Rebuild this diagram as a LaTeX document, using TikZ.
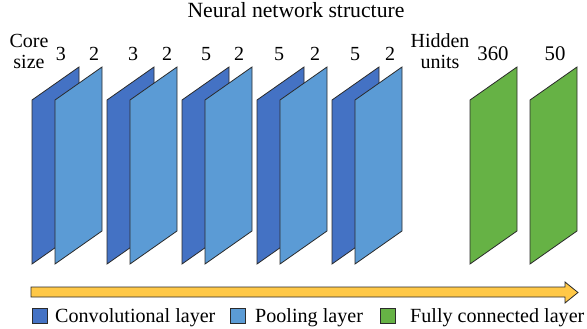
\documentclass[tikz,border=0pt]{standalone}
\usepackage{fontspec}
\setmainfont{Liberation Serif}
\usepackage{tikz}
\usetikzlibrary{positioning}
\usepackage{xcolor}
\definecolor{convblue}{HTML}{4472C4}
\definecolor{poolblue}{HTML}{5B9BD5}
\definecolor{fcgreen}{HTML}{66B245}
\definecolor{flowgold}{HTML}{FFC847}
\definecolor{edgegray}{HTML}{2B2B2B}

\tikzset{
  slab/.style={draw=edgegray, line width=0.8pt, line join=miter},
  convlayer/.style={slab, fill=convblue},
  poollayer/.style={slab, fill=poolblue},
  fclayer/.style={slab, fill=fcgreen},
  lbl/.style={inner sep=0pt, anchor=base, font=\fontsize{20}{24}\selectfont},
  keylbl/.style={lbl, anchor=base west, font=\fontsize{20.1}{24}\selectfont},
  keybox/.style={draw=edgegray, line width=0.8pt, minimum width=15pt, minimum height=15pt, inner sep=0pt}
}

\begin{document}
\begin{tikzpicture}[x=1pt, y=-1pt]
    \useasboundingbox (0,0) rectangle (587,329);

    % title
    \node[lbl, font=\fontsize{21.7}{24}\selectfont] (title) at (296,18) {Neural network structure};

    % conv + pooling pairs
    \foreach \x/\k/\i in {32/3/1, 107/3/2, 182/5/3, 257/5/4, 332/5/5}{
        \draw[convlayer] (\x,100) -- ++(47,-33) -- ++(0,164) -- ++(-47,33) -- cycle;
        \draw[poollayer] (\x+23,100) -- ++(47,-33) -- ++(0,164) -- ++(-47,33) -- cycle;
    }
    \foreach \x/\t/\i in {61/3/1, 94/2/2, 133/3/3, 167/2/4, 206/5/5, 239/2/6, 279/5/7, 315/2/8, 355/5/9, 390/2/10}{
        \node[lbl] (size\i) at (\x,61) {\t};
    }
    \node[lbl] (core) at (29,48) {Core};
    \node[lbl] (size) at (29,69) {size};

    % fully connected
    \foreach \x in {470, 530}{
        \draw[fclayer] (\x,100) -- ++(47,-33) -- ++(0,164) -- ++(-47,33) -- cycle;
    }
    \node[lbl] (hidden) at (440,48) {Hidden};
    \node[lbl] (units) at (440,69) {units};
    \node[lbl, font=\fontsize{20.8}{24}\selectfont] (units1) at (493,61) {360};
    \node[lbl, font=\fontsize{20.8}{24}\selectfont] (units2) at (555,61) {50};

    % flow arrow
    \draw[draw=edgegray, line width=0.8pt, fill=flowgold, line join=miter]
        (31,287) -- (565,287) -- (565,282) -- (578,292.5) -- (565,303) -- (565,297) -- (31,297) -- cycle;

    % legend
    \node[keybox, fill=convblue] (keyconv) at (40,316) {};
    \node[keylbl] (txtconv) at (55,322) {Convolutional layer};
    \node[keybox, fill=poolblue] (keypool) at (237.5,316) {};
    \node[keylbl] (txtpool) at (255,322) {Pooling layer};
    \node[keybox, fill=fcgreen] (keyfc) at (388,316) {};
    \node[keylbl] (txtfc) at (410,322) {Fully connected layer};
\end{tikzpicture}
\end{document}
